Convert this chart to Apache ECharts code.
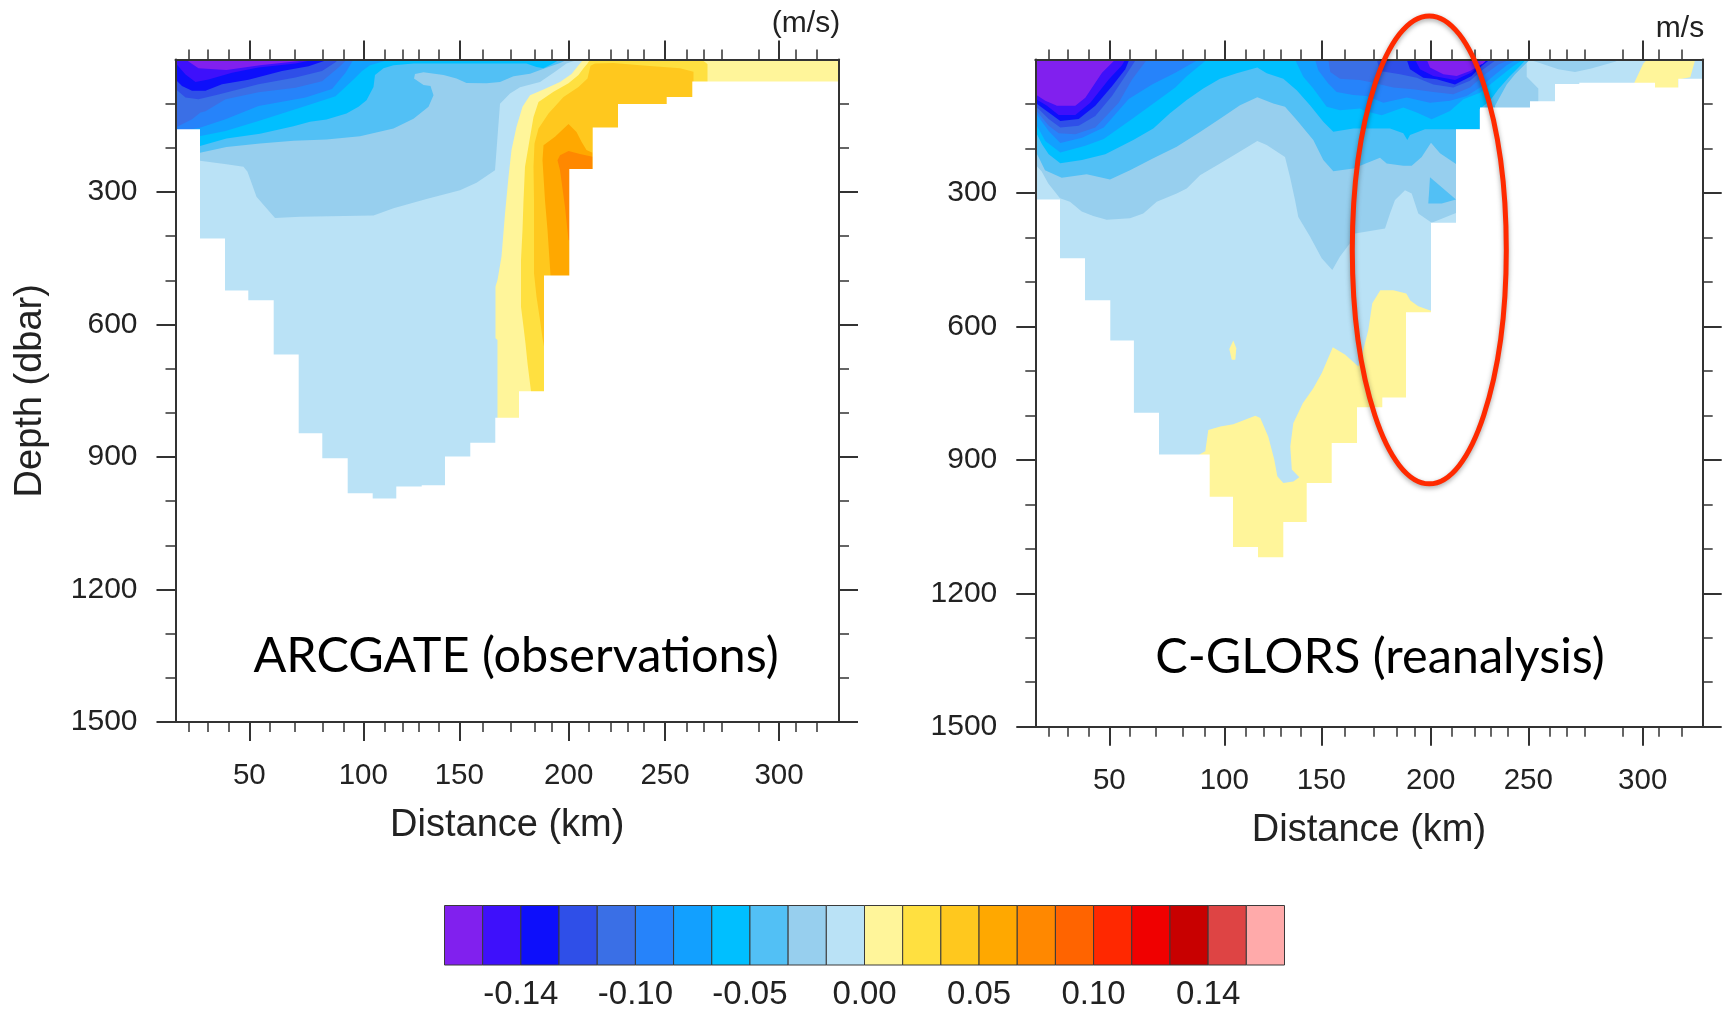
<!DOCTYPE html>
<html>
<head>
<meta charset="utf-8">
<style>html,body{margin:0;padding:0;background:#fff}#c{width:1725px;height:1009px}</style>
<script src="https://cdn.jsdelivr.net/npm/echarts@6/dist/echarts.min.js"></script>
</head>
<body>
<div id="c"></div>
<script>
// ---- Colour scale ----
const bandColors = ['#8120EE','#3E10FB','#0D0FFB','#2F4FE8','#3A6FE6','#2683FA','#12A0FF','#00BFFF','#52C0F5','#97CFEE','#BAE2F6','#FFF59A','#FFE040','#FFC81E','#FFA800','#FF8800','#FF6400','#FF2800','#F00000','#C80000','#DE4444','#FFAAAA'];
const scalePositions = [2,5,8,11,14,17,20];
const scaleLabels = ['-0.14','-0.10','-0.05','0.00','0.05','0.10','0.14'];

// ---- Shared axis content ----
const xTickLabels = ['50','100','150','200','250','300'];
const depthMajor = [300,600,900,1200,1500];
const depthMinor = [100,200,400,500,700,800,1000,1100,1300,1400];

// ---- ARCGATE section: x is along-section position (the km ticks are unevenly spaced along it), y is depth in dbar ----
const arcXMax = 663.5;
const arcXMajor = [73.8,187.8,283.8,393.2,489.5,603.5];
const arcXMinor = [13.5,31.8,53.5,93.8,119.5,147.5,167.8,208.8,227.5,243.5,263.5,306.8,335.5,359.2,376,412.8,435.2,452.2,468.5,511.2,528.2,545.8,583.2,619.8,641.5];
const arcFloorEdges = [0,24.5,49.5,72.8,98.2,123.2,146.8,172.2,197.2,220.8,246.2,269.5,294.8,319.8,343.5,368.5,393.8,417.2,442.5,491.2,516.8,663.5];
const arcFloorDepths = [158,405,523,545,668,846,903,982,994,967,964,899,868,811,751,489,248,154,101,85,50];

const arcBand0 = [[10,0],[23,20],[51,24],[84.5,13],[131,1.5],[135,0]];
const arcBand1 = [[0,8],[10,34],[20,51],[33,45],[56.5,30],[83,18],[120,9],[140,0],[0,0]];
const arcBand2 = [[0,45],[6.5,60],[16.5,71],[30,71],[46.5,56],[73,46],[106.5,26],[133,15],[153,0],[0,0]];
const arcBand3 = [[0,67],[10,86],[23,90],[43,79],[83,56],[120,41],[146.5,26],[160,6],[163,0],[0,0]];
const arcBand4 = [[0,154],[16.5,135],[25,120],[30,117],[50,90],[83,74],[120,64],[146.5,49],[163,18],[171.5,0],[0,0]];
const arcBand5 = [[0,165],[25,154],[50,135],[83,105],[130,86],[156.5,67],[170,30],[178,0],[0,0]];
const arcBand6 = [[0,190],[25,173],[50,162],[83,139],[130,105],[160,83],[178,45],[186.5,26],[194.5,13],[211,2],[214.5,0],[0,0]];
const arcBand7 = [[0,196],[24.5,196],[51,179],[84.5,168],[118,151],[134.5,141],[151,136],[171,122],[183,107],[191,92],[198,62],[199.5,35],[208,20],[218,13],[238,9],[301,9],[351,9],[361,17],[368,20],[376,11],[384.5,0],[0,0]];
const arcBand8 = [[0,211],[24.5,211],[51,198],[84.5,190],[118,184],[151,181],[184.5,174],[218,156],[238,134],[253,107],[258,81],[255,60],[248,58],[238.5,43],[239.5,33],[248,29],[268,35],[281,43],[291,53],[311,54],[324.5,51],[338,38],[354.5,32],[369.5,20],[384.5,8],[392,0],[0,0]];
const arcBand9 = [[0,229],[24.5,229.5],[51,237],[68,243],[72,254],[81,311],[99.5,359],[124.5,356],[198,353],[218,337],[251,316],[284.5,296],[301,279],[319.5,251],[324.5,100],[334.5,77],[344.5,63],[364.5,51],[379.5,28],[391,9],[403,0],[0,0]];
const arcBand10 = [[0,0],[663.5,0],[663.5,1500],[0,1500]];
const arcBand11 = [[408,0],[403,13],[396,33],[384.5,51],[368,68],[354.5,81],[347,107],[341,152],[336,205],[333,266],[329.5,349],[326,446],[322,499],[320,514],[320,631],[322,635],[322,811],[322,1500],[663.5,1500],[663.5,0]];
const arcBand12 = [[414.5,0],[412,9],[408,20],[403,35],[393,54],[378,73],[363,96],[358,130],[354,183],[349.5,243],[348,319],[347,386],[345.5,454],[345.5,560],[348,605],[350,643],[352,688],[355.5,751],[355.5,800],[532,800],[532,10],[526,0]];
const arcBand13 = [[415,14],[412,43],[403,62],[388,85],[373,122],[363,156],[359,190],[358,243],[358.5,319],[358.5,386],[358.5,484],[361,537],[364.5,590],[367,631],[368.5,650],[518,650],[518,28],[504.5,20],[464.5,13],[438,8],[419.5,9]];
const arcBand14 = [[393,146],[401,164],[406,186],[411,205],[417,211],[417,600],[375.5,600],[375,488],[372,386],[369.5,319],[367,228],[368,194],[379.5,175]];
const arcBand15 = [[393,207],[404.5,214],[417,220],[417,300],[394.5,300],[394.5,409],[393,409],[389.5,334],[384.5,251],[382,228],[384.5,217]];

// ---- C-GLORS section ----
const glXMax = 667.4;
const glXMajor = [74,189,286,395.4,493,607.4];
const glXMinor = [13.7,32.4,53.7,94,120.7,147.7,169.4,210.4,228.7,245,265.4,309,338,361,379.4,416.4,439,455,472,514,531.4,549,587,623,646];
const glFloorEdges = [0,24.7,49.7,75,98.6,123.7,174.4,197.7,222.7,248,271.4,296.4,321.7,347,370.7,395.7,420.7,444.7,494.7,519.7,544,619.7,643,667.4];
const glFloorDepths = [315,447,541,632,794,888,983,1096,1119,1040,952,862,782,760,568,367,157,108,94,55,52,63,43];

const glBand0a = [[0,78],[10,93],[21.7,104],[40,104],[50,86],[66.7,30],[80,0],[0,0]];
const glBand0b = [[391.4,0],[394.7,18],[408,33],[421.4,37],[434.7,26],[448,8.6],[452,0]];
const glBand1a = [[0,88],[11.7,104],[23.4,125],[40,125],[55,97],[73.4,45],[86.7,13],[90,0],[0,0]];
const glBand1b = [[379.7,0],[384.7,22],[398,37],[419.7,46],[436.4,29.5],[444.7,11],[451.4,0]];
const glBand2a = [[0,97],[13.4,119],[25,138],[43.4,134],[60,104],[76.7,60],[90,22],[94,0],[0,0]];
const glBand2b = [[371.4,0],[374.7,22],[388,41],[401.4,44.5],[419.7,56],[436.4,37],[446.4,14.6],[454.7,0]];
const glBand3a = [[0,104],[13.4,134],[25,153],[43.4,149],[60,127],[76.7,82],[90,37],[100.7,0],[0,0]];
const glBand3b = [[341.4,0],[344.7,26],[364.7,33],[381.4,41],[398,56],[418,63],[434.7,48],[448,22],[461.4,0]];
const glBand4a = [[0,112],[13.4,149],[23.4,166],[40,168],[60,153],[83.4,97],[96.7,45],[111.7,0],[0,0]];
const glBand4b = [[293,0],[295,28],[304.7,43],[324.7,46],[338,52],[358,63],[378,67],[398,73],[418,78],[434.7,63],[449.7,33],[463,11],[474.7,0]];
const glBand5a = [[0,119],[13.4,161],[25,188],[46.7,176],[68.4,153],[93.4,89],[116.7,56],[140,30],[163.4,0],[0,0]];
const glBand5b = [[279.7,0],[283,24],[293,54],[301.4,73],[318,80],[331.4,82],[348,97],[371.4,85.7],[394.7,97],[414.7,93],[431.4,82],[444.7,63],[458,37],[471.4,13],[481.4,0]];
const glBand6a = [[0,142],[10,183],[25,209],[50,194],[68.4,179],[96.7,134],[116.7,101],[140,63],[151.7,37],[171.7,0],[0,0]];
const glBand6b = [[259.7,0],[268,39],[278,65],[291.4,106],[304.7,114],[324.7,110],[329.7,116],[346.4,125.4],[368,108],[381.4,119.4],[396.4,134.4],[414.7,115.7],[428,89.5],[444.7,74.5],[461.4,44.5],[478,14.6],[488,0]];
const glBand7 = [[0,161],[6.7,190.6],[13.4,213],[25,233],[46.7,226],[70,213],[98,181],[118,155],[134.7,121],[151.4,91],[168,65],[184.7,43],[201.4,31],[222,18],[231.4,31],[248,43],[261.4,69],[274.7,103],[288,140],[298,162.5],[318,155],[338,155],[354.7,155],[368,166],[372,181],[374.7,170],[389.7,157],[420.7,157],[444,157],[444,112],[454.7,93],[463,67],[474.7,37],[484.7,14.6],[490.7,0],[0,0]];
const glBand8a = [[0,205],[4.7,226],[9.7,249],[26.4,266],[51.4,258],[74.7,270],[94.7,249],[118,222],[141.4,196],[164.7,163],[184.7,133],[204.7,103],[222,85],[238,99],[249.7,106],[261.4,136],[278,181],[288,226],[298,251],[318,245],[334.7,230],[344.7,221],[351.4,234],[368,239],[376.4,239],[386.4,219],[395.7,187],[404.7,211],[420.7,235],[459,240],[459.7,104],[471.4,56],[479.7,33],[488,14.6],[494.7,0],[0,0]];
const glBand8b = [[394.7,265],[420.7,315],[406.4,324],[393,324]];
const glBand9a = [[0,236],[6.4,252],[13,279],[24.7,312],[34.7,320],[46.4,342],[58,352],[71.4,360],[94.7,357],[108,346],[121.4,320],[141.4,301],[151.4,290],[164.7,260],[184.7,234],[204.7,207],[222,183],[231.4,192],[249.7,219],[254.7,264],[259.7,316],[263,354],[274.7,398],[286.4,447],[297,473],[304.7,443],[314.7,413],[319.7,391],[349.7,380],[354.7,346],[359.7,316],[369.7,294],[376.4,301],[383,346],[396.4,367],[420.7,345],[505,345],[503,91],[503,65],[491.4,39],[491.4,5],[489.7,0],[0,0]];
const glBand9b = [[493,0],[503,7],[523,22],[539.7,28],[556,20],[579.7,5],[584.7,0]];
const glBand10 = [[0,0],[667.4,0],[667.4,1500],[0,1500]];
const glBand11a = [[164,888],[170,881],[173,833],[185,825],[198,820],[220,801],[225,806],[233,848],[239,900],[242,937],[248,952],[258,949],[264,939],[256.5,922],[255,870],[258,818],[267.5,773],[278,739],[286.5,705],[297.5,647],[310,664],[323,690],[328,653],[333,608],[337,548],[345,519],[358,519],[371,526],[375,542],[383,555],[395.7,565],[395.7,1200],[164,1200]];
const glBand11b = [[194,651],[198,632],[201,649],[200,675],[196.5,675]];
const glBand11c = [[599,52],[608,9],[612,0],[660,0],[655,40],[643,45],[643,80],[599,80]];
// Red highlight: centre (along-section position, dbar) and radii in the same units
const ovalCentre = [394,428];
const ovalRadii = [77,526];

const arcLayers = [[10,arcBand10],[9,arcBand9],[8,arcBand8],[7,arcBand7],[6,arcBand6],[5,arcBand5],[4,arcBand4],[3,arcBand3],[2,arcBand2],[1,arcBand1],[0,arcBand0],[11,arcBand11],[12,arcBand12],[13,arcBand13],[14,arcBand14],[15,arcBand15]];
const glLayers = [[10,glBand10],[9,glBand9a],[9,glBand9b],[8,glBand8a],[8,glBand8b],[7,glBand7],[6,glBand6a],[6,glBand6b],[5,glBand5a],[5,glBand5b],[4,glBand4a],[4,glBand4b],[3,glBand3a],[3,glBand3b],[2,glBand2a],[2,glBand2b],[1,glBand1a],[1,glBand1b],[0,glBand0a],[0,glBand0b],[11,glBand11a],[11,glBand11b],[11,glBand11c]];

// ---- Assembly ----
const TXT = '#222', LINE = '#333', FONT = '"Liberation Sans", Arial, sans-serif';
const grids = [
  {left:175.5, top:59.5, width:663.5, height:662.5, outerBoundsMode:'none'},
  {left:1035.3, top:59.5, width:667.4, height:667.2, outerBoundsMode:'none'},
  {left:444.5, top:905.5, width:840, height:59.5, outerBoundsMode:'none'}
];
const xAxes = [], yAxes = [], series = [];

function tickAxis(common, values, len, showLine, lw) {
  return Object.assign({
    type:'value', z:10, splitLine:{show:false}, minorTick:{show:false},
    axisLine:{show:showLine, onZero:false, lineStyle:{color:LINE, width:2}},
    axisTick:{show:true, inside:false, length:len, customValues:values, lineStyle:{color:LINE, width:lw}},
    axisLabel:{show:false}
  }, common);
}

function buildPanel(g, xMax, xMajor, xMinor, layers, edges, depths, yName) {
  const xBase = xAxes.length, yBase = yAxes.length;
  const xc = {gridIndex:g, min:0, max:xMax}, yc = {gridIndex:g, min:0, max:1500, inverse:true};
  const bottom = tickAxis(Object.assign({position:'bottom'}, xc), xMajor, 19, true, 2);
  bottom.axisLabel = {show:true, customValues:xMajor, margin:39, fontSize:29.5, color:TXT, fontFamily:FONT,
    formatter:(v)=>xTickLabels[xMajor.indexOf(v)]};
  bottom.name = 'Distance (km)'; bottom.nameLocation = 'middle'; bottom.nameGap = 85;
  bottom.nameTextStyle = {fontSize:38, color:TXT, fontFamily:FONT};
  xAxes.push(bottom,
    tickAxis(Object.assign({position:'bottom'}, xc), xMinor, 10, false, 1.5),
    tickAxis(Object.assign({position:'top'}, xc), xMajor, 19, true, 2),
    tickAxis(Object.assign({position:'top'}, xc), xMinor, 10, false, 1.5));
  const left = tickAxis(Object.assign({position:'left'}, yc), depthMajor, 19, true, 2);
  left.axisLabel = {show:true, customValues:depthMajor, margin:38, fontSize:30, color:TXT, fontFamily:FONT,
    padding:[4,0,0,0], formatter:(v)=>String(v)};
  if (yName) {
    left.name = yName; left.nameLocation = 'middle'; left.nameGap = 126;
    left.nameTextStyle = {fontSize:38, color:TXT, fontFamily:FONT};
  }
  yAxes.push(left,
    tickAxis(Object.assign({position:'left'}, yc), depthMinor, 10, false, 1.5),
    tickAxis(Object.assign({position:'right'}, yc), depthMajor, 19, true, 2),
    tickAxis(Object.assign({position:'right'}, yc), depthMinor, 10, false, 1.5));

  const poly = (pts, color, z) => ({
    type:'custom', coordinateSystem:'cartesian2d', xAxisIndex:xBase, yAxisIndex:yBase, z:z, silent:true,
    clip:false, data:pts, encode:{x:0, y:1},
    renderItem:(params, api) => params.dataIndex !== 0 ? null : {
      type:'polygon', shape:{points:pts.map(p=>api.coord(p))}, style:{fill:color}
    }
  });
  layers.forEach(([idx, pts]) => series.push(poly(pts, bandColors[idx], 2)));
  const mask = [];
  depths.forEach((d,i) => { mask.push([edges[i],d],[edges[i+1],d]); });
  mask.push([xMax,1500],[0,1500]);
  series.push(poly(mask, '#ffffff', 3));
  return {xBase, yBase};
}

buildPanel(0, arcXMax, arcXMajor, arcXMinor, arcLayers, arcFloorEdges, arcFloorDepths, 'Depth (dbar)');
const gl = buildPanel(1, glXMax, glXMajor, glXMinor, glLayers, glFloorEdges, glFloorDepths, null);

// Highlight oval
series.push({
  type:'custom', coordinateSystem:'cartesian2d', xAxisIndex:gl.xBase, yAxisIndex:gl.yBase, z:20, silent:true, clip:false,
  data:[ovalCentre],
  renderItem:(params, api) => {
    const c = api.coord(ovalCentre), e = api.coord([ovalCentre[0]+ovalRadii[0], ovalCentre[1]+ovalRadii[1]]);
    return {type:'ellipse', shape:{cx:c[0], cy:c[1], rx:e[0]-c[0], ry:e[1]-c[1]},
      style:{fill:'none', stroke:'#FF2A00', lineWidth:5, shadowBlur:5, shadowColor:'rgba(0,0,0,0.35)', shadowOffsetY:2}};
  }
});

// Colour bar
const cbX = xAxes.length, cbY = yAxes.length;
xAxes.push({type:'value', gridIndex:2, min:0, max:bandColors.length, position:'bottom',
  splitLine:{show:false}, axisLine:{show:false}, axisTick:{show:false},
  axisLabel:{show:true, customValues:scalePositions, margin:13, fontSize:33, color:TXT, fontFamily:FONT,
    formatter:(v)=>scaleLabels[scalePositions.indexOf(v)]}});
yAxes.push({type:'value', gridIndex:2, min:0, max:1, show:false});
series.push({
  type:'custom', coordinateSystem:'cartesian2d', xAxisIndex:cbX, yAxisIndex:cbY, z:5, silent:true,
  data:bandColors.map((c,i)=>[i,i+1]), encode:{x:[0,1]},
  renderItem:(params, api) => {
    const a = api.coord([api.value(0),1]), b = api.coord([api.value(1),0]);
    return {type:'rect', shape:{x:a[0], y:a[1], width:b[0]-a[0], height:b[1]-a[1]},
      style:{fill:bandColors[params.dataIndex], stroke:'#3a3a3a', lineWidth:1}};
  }
});

const chart = echarts.init(document.getElementById('c'), null, {renderer:'canvas'});
chart.setOption({
  animation:false, backgroundColor:'#fff',
  grid:grids, xAxis:xAxes, yAxis:yAxes, series:series,
  graphic:[
    {type:'text', z:30, x:516, y:656, style:{text:'ARCGATE (observations)', font:'48.6px Lato', fill:'#000', textAlign:'center', textVerticalAlign:'middle'}},
    {type:'text', z:30, x:1380, y:657, style:{text:'C-GLORS (reanalysis)', font:'48.6px Lato', fill:'#000', textAlign:'center', textVerticalAlign:'middle'}},
    {type:'text', z:30, x:806, y:23.5, style:{text:'(m/s)', font:'30px "Liberation Sans"', fill:TXT, textAlign:'center', textVerticalAlign:'middle'}},
    {type:'text', z:30, x:1680, y:28.5, style:{text:'m/s', font:'30px "Liberation Sans"', fill:TXT, textAlign:'center', textVerticalAlign:'middle'}}
  ]
});
</script>
</body>
</html>
